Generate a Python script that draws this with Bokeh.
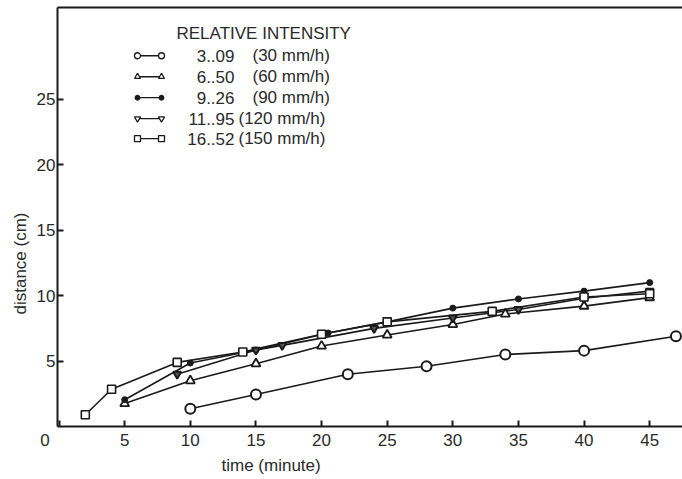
import math
from bokeh.plotting import figure
from bokeh.models import Range1d, FixedTicker, LinearAxis, Title
from bokeh.embed import file_html
from bokeh.resources import INLINE
from bokeh.core.properties import value

# ---- data ----
time_30 = [10, 15, 22, 28, 34, 40, 47]
dist_30 = [1.35, 2.45, 4.0, 4.6, 5.5, 5.8, 6.9]

time_60 = [5, 10, 15, 20, 25, 30, 34, 40, 45]
dist_60 = [1.75, 3.5, 4.8, 6.15, 7.0, 7.8, 8.6, 9.2, 9.85]

time_90 = [5, 10, 15, 20.5, 25, 30, 35, 40, 45]
dist_90 = [2.05, 4.85, 5.85, 7.15, 8.0, 9.05, 9.75, 10.35, 11.0]

time_120 = [9, 15, 17, 24, 30, 35, 40, 45]
dist_120 = [4.0, 5.85, 6.2, 7.5, 8.3, 8.95, 9.8, 10.35]

time_150 = [2, 4, 9, 14, 20, 25, 33, 40, 45]
dist_150 = [0.9, 2.85, 4.9, 5.7, 7.05, 8.0, 8.8, 9.9, 10.15]

legend_numbers = ["3..09", "6..50", "9..26", "11..95", "16..52"]
legend_rates = ["(30 mm/h)", "(60 mm/h)", "(90 mm/h)", "(120 mm/h)", "(150 mm/h)"]
legend_title = "RELATIVE INTENSITY"

x_ticks = [0, 5, 10, 15, 20, 25, 30, 35, 40, 45]
y_ticks = [5, 10, 15, 20, 25]

FONT = "Liberation Sans"
INK = "#1a1a1a"
TXT = "#2a2a2a"

p = figure(width=682, height=479, output_backend="svg", toolbar_location=None,
           x_range=Range1d(-0.12, 47.5), y_range=Range1d(0, 32.03),
           min_border_left=57, min_border_right=0, min_border_top=7, min_border_bottom=53,
           x_axis_type=None, y_axis_type=None)
p.outline_line_color = None
p.grid.visible = False
p.background_fill_color = "white"
p.border_fill_color = "white"

def style_axis(ax, ticks):
    ax.ticker = FixedTicker(ticks=ticks)
    ax.axis_line_width = 2
    ax.axis_line_color = INK
    ax.major_tick_line_width = 2
    ax.major_tick_line_color = INK
    ax.major_tick_in = 6
    ax.major_tick_out = 0
    ax.minor_tick_in = 0
    ax.minor_tick_out = 0
    ax.major_label_text_font = FONT
    ax.major_label_text_font_size = "17px"
    ax.major_label_text_color = TXT

xa = LinearAxis()
style_axis(xa, x_ticks)
xa.major_label_standoff = 4
# corner "0" sits left of the origin in the reference
xa.major_label_overrides = {0: "0" + "\u00a0" * 6}
p.add_layout(xa, "below")

ya = LinearAxis()
style_axis(ya, y_ticks)
ya.major_label_standoff = 2
p.add_layout(ya, "left")

ta = LinearAxis()
style_axis(ta, [])
ta.major_tick_in = 0
ta.major_label_text_font_size = "0px"
p.add_layout(ta, "above")

# ---- series ----
series = [
    (time_30, dist_30, dict(marker="circle", size=10, line_width=2, fill_color="white")),
    (time_60, dist_60, dict(marker="triangle", size=9, line_width=1.8, fill_color="white")),
    (time_90, dist_90, dict(marker="circle", size=6, line_width=1, fill_color=INK)),
    (time_120, dist_120, dict(marker="inverted_triangle", size=8, line_width=2, fill_color="#555555")),
    (time_150, dist_150, dict(marker="square", size=8, line_width=1.6, fill_color="white")),
]
for xs, ys, st in series:
    p.line(xs, ys, line_color=INK, line_width=1.6)
for xs, ys, st in series:
    p.scatter(xs, ys, marker=st["marker"], size=st["size"], line_color=INK,
              line_width=st["line_width"], fill_color=st["fill_color"])

# ---- legend (drawn as text and small glyphs) ----
def px_to_x(px):
    return -0.12 + (px - 57) / 13.125

def py_to_y(py):
    return (426 - py) / 13.09

row_py = [55, 76, 97, 118, 138]
lx0, lx1 = px_to_x(137), px_to_x(161)
leg_styles = [
    dict(marker="circle", size=6, line_width=1.3, fill_color="white"),
    dict(marker="triangle", size=6, line_width=1.3, fill_color="white"),
    dict(marker="circle", size=5, line_width=1, fill_color=INK),
    dict(marker="inverted_triangle", size=6, line_width=1.3, fill_color="white"),
    dict(marker="square", size=6, line_width=1.3, fill_color="white"),
]
for i, st in enumerate(leg_styles):
    yy = py_to_y(row_py[i])
    p.line([lx0, lx1], [yy, yy], line_color=INK, line_width=1.3)
    p.scatter([lx0, lx1], [yy, yy], marker=st["marker"], size=st["size"], line_color=INK,
              line_width=st["line_width"], fill_color=st["fill_color"])

p.text(x=[px_to_x(176)], y=[py_to_y(33)], text=[legend_title], text_font=value(FONT),
       text_font_size="17px", text_color=TXT, text_align="left", text_baseline="middle")
p.text(x=[px_to_x(234)] * 5, y=[py_to_y(v) for v in row_py], text=legend_numbers,
       text_font=value(FONT), text_font_size="17px", text_color=TXT,
       text_align="right", text_baseline="middle")
rate_px = [252, 252, 252, 238, 238]
p.text(x=[px_to_x(v) for v in rate_px], y=[py_to_y(v) for v in row_py], text=legend_rates,
       text_font=value(FONT), text_font_size="17px", text_color=TXT,
       text_align="left", text_baseline="middle")

# ---- axis titles ----
p.add_layout(Title(text="time (minute)", align="left", offset=164,
                   text_font=FONT, text_font_size="17px", text_color=TXT,
                   text_font_style="normal", standoff=2), "below")
p.add_layout(Title(text="distance (cm)", align="left", offset=112,
                   text_font=FONT, text_font_size="17px", text_color=TXT,
                   text_font_style="normal", standoff=8), "left")

open("out.html", "w").write(file_html(p, INLINE))
